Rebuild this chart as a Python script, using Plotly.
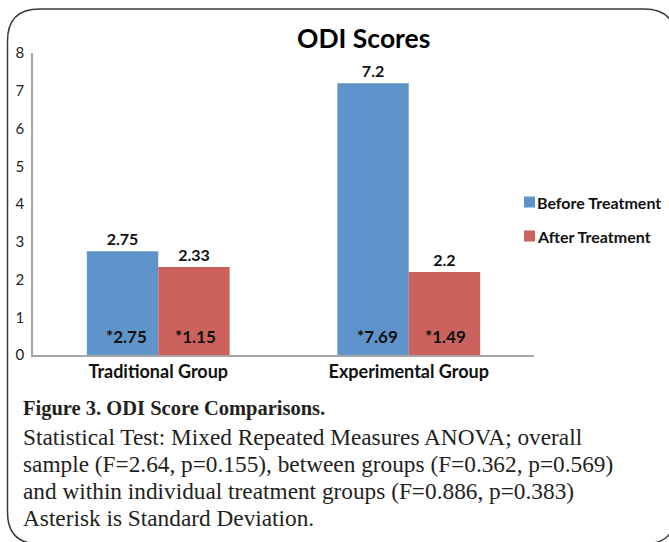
import plotly.graph_objects as go

categories = ["Traditional Group", "Experimental Group"]
before_values = [2.75, 7.2]
after_values = [2.33, 2.2]
before_sd = [2.75, 7.69]
after_sd = [1.15, 1.49]
series_names = ["Before Treatment", "After Treatment"]
y_ticks = [0, 1, 2, 3, 4, 5, 6, 7, 8]

title_text = "ODI Scores"
caption_title = "Figure 3. ODI Score Comparisons."
caption_lines = [
    "Statistical Test: Mixed Repeated Measures ANOVA; overall",
    "sample (F=2.64, p=0.155), between groups (F=0.362, p=0.569)",
    "and within individual treatment groups (F=0.886, p=0.383)",
    "Asterisk is Standard Deviation.",
]

W, H = 669, 542
BLUE = "#5f94ca"
RED = "#cb625e"
SANS = "Lato, 'Open Sans', sans-serif"
SERIF = "'Liberation Serif', 'DejaVu Serif', serif"
colors = [BLUE, RED]

def px(x):
    return x / W

def py(y):
    return 1 - y / H

fig = go.Figure()
for name, vals, col in zip(series_names, [before_values, after_values], colors):
    fig.add_trace(go.Bar(
        x=categories, y=vals, name=name,
        marker=dict(color=col, line=dict(width=0)),
        text=[f"<b>{v:g}</b>" for v in vals], textposition="outside",
        textfont=dict(family=SANS, size=16, color="#111"),
        cliponaxis=False, showlegend=False,
    ))

annotations = []
shapes = []
bar_offset = 35.75
for cat, sd in zip(categories, before_sd):
    annotations.append(dict(x=cat, y=0, xref="x", yref="y", xshift=-bar_offset + 4,
                            yshift=6, yanchor="bottom", showarrow=False,
                            text=f"<b>*{sd:.2f}</b>",
                            font=dict(family=SANS, size=17, color="#111")))
for cat, sd in zip(categories, after_sd):
    annotations.append(dict(x=cat, y=0, xref="x", yref="y", xshift=bar_offset + 1,
                            yshift=6, yanchor="bottom", showarrow=False,
                            text=f"<b>*{sd:.2f}</b>",
                            font=dict(family=SANS, size=17, color="#111")))

# Chart title
annotations.append(dict(x=px(363), y=py(38), xref="paper", yref="paper",
                        text=f"<b>{title_text}</b>", showarrow=False,
                        xanchor="center", yanchor="middle",
                        font=dict(family=SANS, size=26.5, color="#000")))

# Legend (drawn manually to match the compact Excel-style legend)
for i, (name, col) in enumerate(zip(series_names, colors)):
    cy = 202 + 34 * i
    shapes.append(dict(type="rect", xref="paper", yref="paper",
                       x0=px(524), x1=px(535), y0=py(cy + 5.5), y1=py(cy - 5.5),
                       fillcolor=col, line=dict(width=0)))
    annotations.append(dict(x=px(535), y=py(cy), xref="paper", yref="paper",
                            text=f"<b>{name}</b>", showarrow=False,
                            xanchor="left", yanchor="middle",
                            font=dict(family=SANS, size=16, color="#111")))

# Caption
annotations.append(dict(x=px(21), y=py(408), xref="paper", yref="paper",
                        text=f"<b>{caption_title}</b>", showarrow=False,
                        xanchor="left", yanchor="middle",
                        font=dict(family=SERIF, size=20.5, color="#231f20")))
for i, line in enumerate(caption_lines):
    annotations.append(dict(x=px(21), y=py(437 + 27 * i), xref="paper", yref="paper",
                            text=line, showarrow=False,
                            xanchor="left", yanchor="middle",
                            font=dict(family=SERIF, size=23.3, color="#231f20")))

# Rounded frame
x0, y0, x1, y1, r = 7.5, 9, 676, 544, 32
path = (f"M {px(x0)},{py(y0 + r)} "
        f"Q {px(x0)},{py(y0)} {px(x0 + r)},{py(y0)} "
        f"L {px(x1 - r)},{py(y0)} "
        f"Q {px(x1)},{py(y0)} {px(x1)},{py(y0 + r)} "
        f"L {px(x1)},{py(y1 - r)} "
        f"Q {px(x1)},{py(y1)} {px(x1 - r)},{py(y1)} "
        f"L {px(x0 + r)},{py(y1)} "
        f"Q {px(x0)},{py(y1)} {px(x0)},{py(y1 - r)} Z")
shapes.append(dict(type="path", xref="paper", yref="paper", path=path,
                   line=dict(color="#3a3a3a", width=1.5), layer="above"))

fig.update_layout(
    width=W, height=H,
    margin=dict(l=0, r=0, t=0, b=0, autoexpand=False),
    paper_bgcolor="white", plot_bgcolor="white",
    barmode="group", bargap=0.43, bargroupgap=0,
    showlegend=False,
    xaxis=dict(domain=[px(33), px(534)], showline=True, linecolor="#a6a6a6",
               linewidth=1.5, ticks="", showgrid=False, automargin=False,
               tickfont=dict(family=SANS, size=18, color="#111"),
               ticktext=[f"<b>{c}</b>" for c in categories], tickvals=categories),
    yaxis=dict(domain=[py(355), py(53)], range=[0, 8], showline=True,
               linecolor="#a6a6a6", linewidth=1.5, ticks="", showgrid=False,
               zeroline=False, tickvals=y_ticks, automargin=False,
               ticklabelstandoff=4,
               tickfont=dict(family=SANS, size=15, color="#222")),
    annotations=annotations,
    shapes=shapes,
)

fig.write_html("out.html", config={"displayModeBar": False},
               post_script="document.body.style.margin='0';document.body.style.overflow='hidden';")
